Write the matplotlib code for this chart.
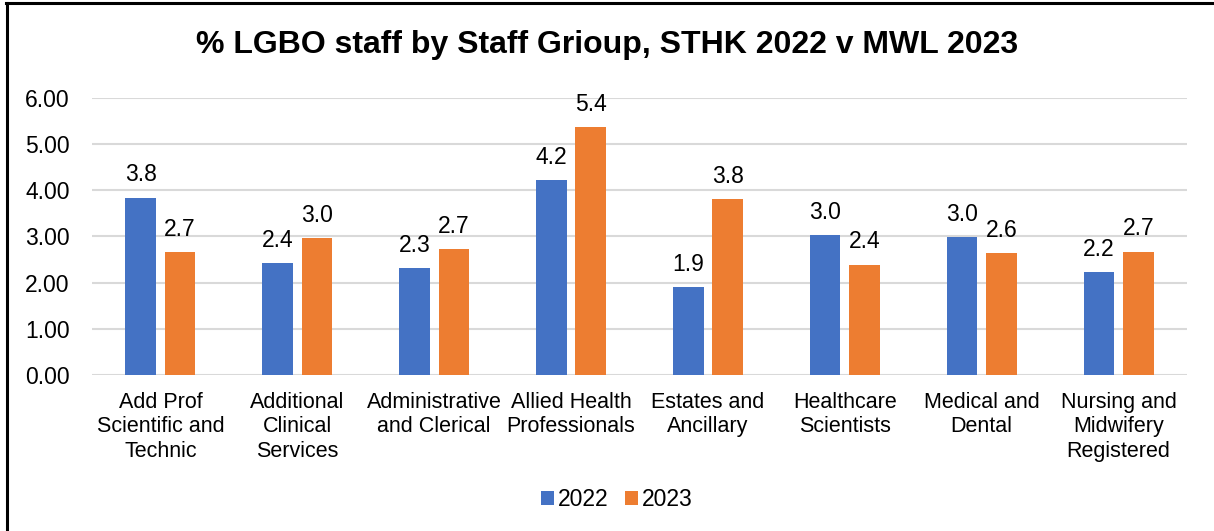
import numpy as np
import matplotlib.pyplot as plt
from matplotlib.lines import Line2D

plt.rcParams['font.family'] = ['Liberation Sans', 'DejaVu Sans']

# Staff groups and % LGBO staff per year
groups = ['Add Prof\nScientific and\nTechnic', 'Additional\nClinical\nServices',
          'Administrative\nand Clerical', 'Allied Health\nProfessionals',
          'Estates and\nAncillary', 'Healthcare\nScientists', 'Medical and\nDental',
          'Nursing and\nMidwifery\nRegistered']
sthk_2022 = [3.84, 2.42, 2.31, 4.22, 1.90, 3.03, 2.99, 2.23]
mwl_2023 = [2.66, 2.96, 2.72, 5.37, 3.81, 2.39, 2.63, 2.67]

blue = '#4472C4'
orange = '#ED7D31'

fig = plt.figure(figsize=(12.14, 5.31), dpi=100)
ax = fig.add_axes([92 / 1214, 1 - 375 / 531, (1187 - 92) / 1214, (375 - 97.7) / 531])

x = np.arange(len(groups))
w = 0.224
off = (w + 0.064) / 2
b1 = ax.bar(x - off, sthk_2022, w, color=blue, label='2022', zorder=3)
b2 = ax.bar(x + off, mwl_2023, w, color=orange, label='2023', zorder=3)

for bars, vals in ((b1, sthk_2022), (b2, mwl_2023)):
    for rect, v in zip(bars, vals):
        ax.annotate(f'{v:.1f}', (rect.get_x() + rect.get_width() / 2, v),
                    xytext=(0, 8), textcoords='offset points',
                    ha='center', va='bottom', fontsize=16.5)

ax.set_xlim(-0.5, len(groups) - 0.5)
ax.set_ylim(0, 6)
ax.set_yticks(np.arange(0, 7, 1))
ax.set_yticklabels([f'{t:.2f}' for t in range(7)])
ax.set_xticks(x)
ax.set_xticklabels(groups, fontsize=15.5, linespacing=1.22)
ax.tick_params(axis='y', length=0, pad=16, labelsize=16.5)
ax.tick_params(axis='x', length=0, pad=12)
ax.grid(axis='y', color='#D9D9D9', linewidth=1.5, zorder=0)
for s in ax.spines.values():
    s.set_visible(False)

fig.text(0.5, 1 - 45 / 531, '% LGBO staff by Staff Grioup, STHK 2022 v MWL 2023',
         ha='center', va='center', fontsize=23, fontweight='bold')

fig.legend(handles=[b1, b2], loc='center', bbox_to_anchor=(617 / 1214, 1 - 500 / 531),
           ncol=2, frameon=False, fontsize=16.5, handlelength=0.55, handleheight=0.55,
           handletextpad=0.2, columnspacing=0.7)

# outer frame on the left and top edges
fig.add_artist(Line2D([7 / 1214, 7 / 1214], [0, 1 - 3 / 531], color='black', linewidth=2.2))
fig.add_artist(Line2D([6 / 1214, 1], [1 - 3 / 531, 1 - 3 / 531], color='black', linewidth=2.2))

fig.savefig('out.png', dpi=100)
